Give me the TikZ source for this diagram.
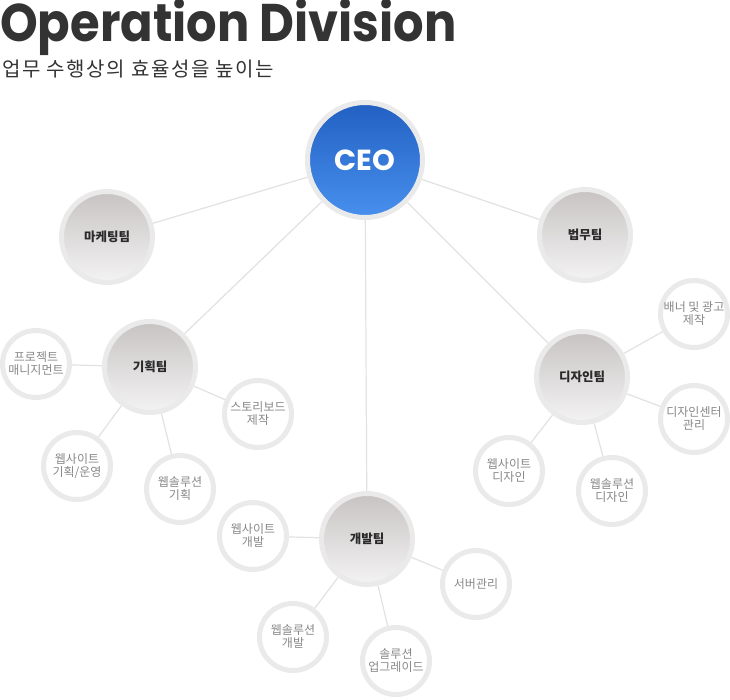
\documentclass[tikz,border=0pt]{standalone}
\usepackage{fontspec}
\setmainfont{Noto Sans CJK KR}
\newfontfamily\titlefont{Poppins}
\newfontfamily\krfont{Noto Sans CJK KR}
\newfontfamily\subfont[LetterSpace=8]{Noto Sans CJK KR}
\usetikzlibrary{backgrounds}
\definecolor{ringgray}{HTML}{EAEAEA}
\definecolor{linegray}{HTML}{E2E2E2}
\definecolor{teamtop}{HTML}{C7C3C3}
\definecolor{teambot}{HTML}{F4F3F3}
\definecolor{ceotop}{HTML}{2260C2}
\definecolor{ceobot}{HTML}{4890EE}
\definecolor{txtdark}{HTML}{2A2A2A}
\definecolor{txtgray}{HTML}{888888}
\definecolor{titlegray}{HTML}{333333}
\tikzset{
  ceobox/.style={circle, minimum size=115pt, inner sep=0pt, draw=ringgray, line width=5pt,
    top color=ceotop, bottom color=ceobot, text=white,
    font=\titlefont\bfseries\fontsize{29}{31}\selectfont},
  teambox/.style={circle, minimum size=91pt, inner sep=0pt, draw=ringgray, line width=5pt,
    top color=teamtop, bottom color=teambot, text=txtdark, align=center,
    font=\krfont\bfseries\fontsize{12.5}{14}\selectfont},
  leafbox/.style={circle, minimum size=67pt, inner sep=0pt, draw=ringgray, line width=5pt,
    fill=white, text=txtgray, align=center,
    font=\krfont\fontsize{12}{13}\selectfont},
  link/.style={draw=linegray, line width=1.2pt}
}
\begin{document}
\begin{tikzpicture}[x=1pt,y=-1pt]
\useasboundingbox (0,0) rectangle (730,700);
% title
\node[anchor=base west, inner sep=0pt, text=titlegray, font=\titlefont\bfseries\fontsize{53}{56}\selectfont] (title) at (0,42) {\scalebox{0.905}[1]{Operation Division}};
\node[anchor=base west, inner sep=0pt, text=titlegray, font=\subfont\fontsize{20}{22}\selectfont] (sub) at (2,77) {업무 수행상의 효율성을 높이는};
% main nodes
\node[ceobox] (ceo) at (365,160) {CEO};
\node[teambox] (mkt) at (107,237) {마케팅팀};
\node[teambox] (law) at (585,235) {법무팀};
\node[teambox] (plan) at (150,367) {기획팀};
\node[teambox] (design) at (582,377) {디자인팀};
\node[teambox] (dev) at (367,539) {개발팀};
% planning leaves
\node[leafbox] (pm) at (36,364) {프로젝트\\매니지먼트};
\node[leafbox] (story) at (258,414) {스토리보드\\제작};
\node[leafbox] (webplan) at (77,466) {웹사이트\\기획/운영};
\node[leafbox] (solplan) at (180,489) {웹솔루션\\기획};
% design leaves
\node[leafbox] (banner) at (694,314) {배너 및 광고\\제작};
\node[leafbox] (dcenter) at (694,419) {디자인센터\\관리};
\node[leafbox] (webdes) at (509,471) {웹사이트\\디자인};
\node[leafbox] (soldes) at (612,491) {웹솔루션\\디자인};
% dev leaves
\node[leafbox] (webdev) at (253,536) {웹사이트\\개발};
\node[leafbox] (server) at (476,584) {서버관리};
\node[leafbox] (soldev) at (293,637) {웹솔루션\\개발};
\node[leafbox] (upgrade) at (396,661) {솔루션\\업그레이드};
\begin{scope}[on background layer]
\fill[white] (0,0) rectangle (730,700);
\draw[link] (ceo) -- (mkt);
\draw[link] (ceo) -- (law);
\draw[link] (ceo) -- (plan);
\draw[link] (ceo) -- (design);
\draw[link] (ceo) -- (dev);
\draw[link] (plan) -- (pm);
\draw[link] (plan) -- (story);
\draw[link] (plan) -- (webplan);
\draw[link] (plan) -- (solplan);
\draw[link] (design) -- (banner);
\draw[link] (design) -- (dcenter);
\draw[link] (design) -- (webdes);
\draw[link] (design) -- (soldes);
\draw[link] (dev) -- (webdev);
\draw[link] (dev) -- (server);
\draw[link] (dev) -- (soldev);
\draw[link] (dev) -- (upgrade);
\end{scope}
\end{tikzpicture}
\end{document}
